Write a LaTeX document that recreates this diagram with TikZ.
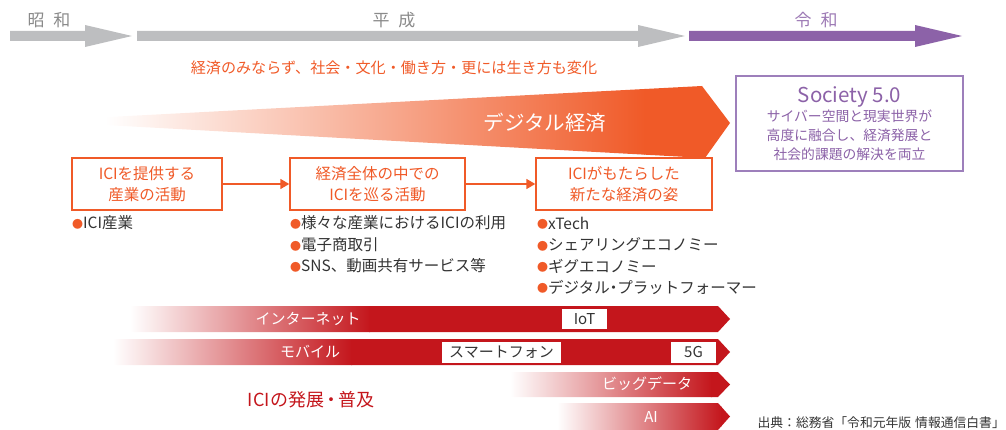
\documentclass[tikz,border=0pt]{standalone}
\usepackage{fontspec}
\setmainfont{Noto Sans CJK JP}
\usetikzlibrary{arrows.meta}
\definecolor{ora}{HTML}{F05A28}
\definecolor{redb}{HTML}{C4161C}
\definecolor{gry}{HTML}{BDBEC0}
\definecolor{gtx}{HTML}{8A8A8A}
\definecolor{pur}{HTML}{8C62A8}
\definecolor{purl}{HTML}{9D7FBB}
\definecolor{dtx}{HTML}{333333}
\newcommand\bul{{\color{ora}\fontsize{11}{11}\selectfont\raisebox{0.8pt}{●}}}
\newcommand\ndot{\hspace{-4pt}・\hspace{-4pt}}
\newcommand\mdot{\hspace{-2pt}・\hspace{-2pt}}
\begin{document}
\begin{tikzpicture}[x=1pt,y=-1pt,
  era/.style={text=gtx, font=\fontsize{17}{17}\selectfont, inner sep=0},
  stagebox/.style={draw=ora, line width=1.4pt, fill=white, text=ora, align=center,
    minimum height=52pt, inner sep=0, font=\fontsize{15.5}{21}\selectfont},
  conn/.style={draw=ora, line width=1.6pt, -{Triangle[length=9pt,width=10pt]}},
  item/.style={anchor=west, inner sep=0, text=dtx, font=\fontsize{15.5}{17}\selectfont},
  barlbl/.style={text=white, inner sep=0, font=\fontsize{15}{17}\selectfont},
  tag/.style={fill=white, text=dtx, inner sep=0, minimum height=21pt, font=\fontsize{15}{17}\selectfont},
]
\useasboundingbox (0,0) rectangle (1006,430);

% timeline arrows
\fill[gry] (10,31) -- (85,31) -- (85,25) -- (132,36) -- (85,47) -- (85,41) -- (10,41) -- cycle;
\fill[gry] (137,31) -- (638,31) -- (638,25) -- (685,36) -- (638,47) -- (638,41) -- (137,41) -- cycle;
\fill[pur] (689,31) -- (915,31) -- (915,25) -- (962,36) -- (915,47) -- (915,41) -- (689,41) -- cycle;
\node[era] (showa) at (49,20) {昭\hspace{9pt}和};
\node[era] (heisei) at (394,20) {平\hspace{9pt}成};
\node[era, text=pur!85] (reiwa) at (816,20) {令\hspace{9pt}和};

\node[text=ora, inner sep=0, font=\fontsize{15.1}{17}\selectfont] (change) at (394,68)
  {経済のみならず、社会・文化・働き方・更には生き方も変化};

% digital economy wedge
\begin{scope}
  \clip (32,121) -- (702,86) -- (730,123) -- (705,158) -- cycle;
  \shade[left color=white, right color=ora] (105,80) rectangle (645,160);
  \fill[ora] (644,80) rectangle (735,160);
\end{scope}
\node[text=white, inner sep=0, font=\fontsize{20.5}{22}\selectfont] (digital) at (545,123) {デジタル経済};

% Society 5.0
\node[draw=purl, line width=1.4pt, fill=white, text=pur, align=center,
  minimum width=227pt, minimum height=95pt, inner sep=0,
  font=\fontsize{13.8}{19}\selectfont] (soc) at (849.5,123.5)
  {{\fontsize{20.5}{22}\selectfont Society 5.0}\\[0pt]
   サイバー空間と現実世界が\\ 高度に融合し、経済発展と\\ 社会的課題の解決を両立};

% stages
\node[stagebox, minimum width=150pt] (b1) at (147,184) {ICIを提供する\\産業の活動};
\node[stagebox, minimum width=175pt] (b2) at (377.5,184) {経済全体の中での\\ICIを巡る活動};
\node[stagebox, minimum width=176pt] (b3) at (624,184) {ICIがもたらした\\新たな経済の姿};
\draw[conn] (b1) -- (b2);
\draw[conn] (b2) -- (b3);

% bullet lists
\node[item] (i11) at (72,223) {\bul ICI産業};
\node[item] (i21) at (290,223) {\bul 様々な産業におけるICIの利用};
\node[item] (i22) at (290,245) {\bul 電子商取引};
\node[item] (i23) at (290,266) {\bul SNS、動画共有サービス等};
\node[item] (i31) at (537,223) {\bul xTech};
\node[item] (i32) at (537,245) {\bul シェアリングエコノミー};
\node[item] (i33) at (537,266) {\bul ギグエコノミー};
\node[item] (i34) at (537,287) {\bul デジタル\ndot プラットフォーマー};

% red bars
\begin{scope}
  \clip (120,306) -- (718,306) -- (730,319) -- (718,332) -- (120,332) -- cycle;
  \shade[left color=white, right color=redb] (130,300) rectangle (370,340);
  \fill[redb] (369,300) rectangle (735,340);
\end{scope}
\begin{scope}
  \clip (105,339) -- (718,339) -- (730,352) -- (718,365) -- (105,365) -- cycle;
  \shade[left color=white, right color=redb] (113,335) rectangle (352,370);
  \fill[redb] (351,335) rectangle (735,370);
\end{scope}
\begin{scope}
  \clip (505,372) -- (718,372) -- (730,384.5) -- (718,397) -- (505,397) -- cycle;
  \shade[left color=white, right color=redb] (510,368) rectangle (712,400);
  \fill[redb] (711,368) rectangle (735,400);
\end{scope}
\begin{scope}
  \clip (550,403) -- (718,403) -- (730,416.5) -- (718,430) -- (550,430) -- cycle;
  \shade[left color=white, right color=redb] (557,400) rectangle (722,432);
  \fill[redb] (721,400) rectangle (735,432);
\end{scope}

\node[barlbl] (internet) at (308,319) {インターネット};
\node[barlbl] (mobile) at (310,352) {モバイル};
\node[barlbl] (bigdata) at (647,384) {ビッグデータ};
\node[barlbl] (ai) at (651,417) {AI};
\node[tag, minimum width=45pt, minimum height=20pt] (iot) at (584.5,319) {IoT};
\node[tag, minimum width=119pt] (smart) at (501.5,352.5) {スマートフォン};
\node[tag, minimum width=45pt] (g5) at (693.5,352.5) {5G};

\node[text=redb, inner sep=0, font=\fontsize{18}{20}\selectfont] (ici) at (311,400) {ICIの発展\mdot 普及};

\node[anchor=east, text=dtx, inner sep=0, font=\fontsize{12.8}{14}\selectfont] (src) at (1005,423)
  {出典：総務省「令和元年版\hspace{4pt}情報通信白書」};
\end{tikzpicture}
\end{document}
